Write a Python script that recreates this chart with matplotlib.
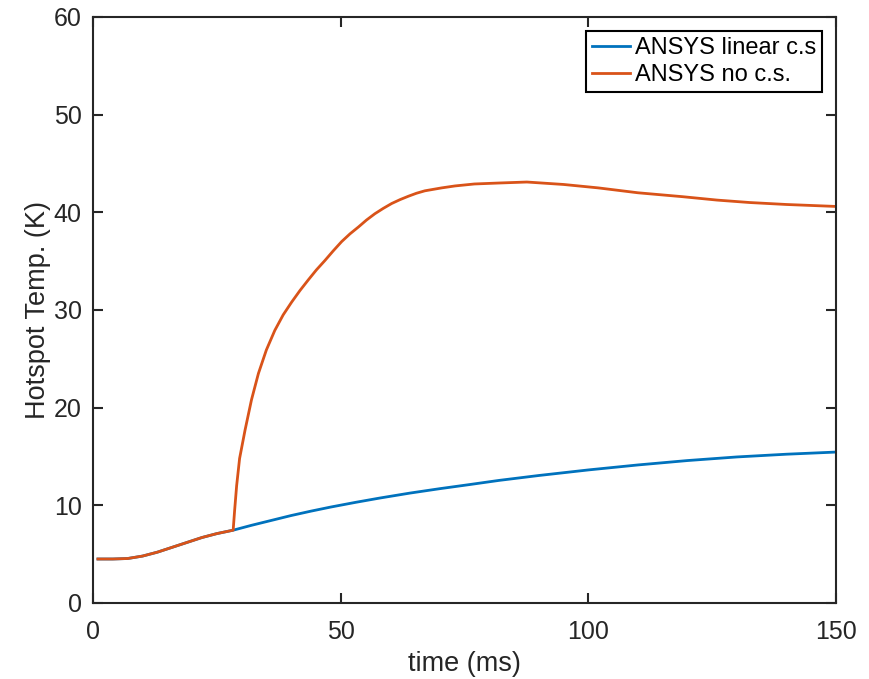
import matplotlib
matplotlib.use('Agg')
import matplotlib.pyplot as plt

plt.rcParams['font.family'] = ['Liberation Sans', 'DejaVu Sans']

# ANSYS linear c.s
time_lin = [1, 4, 7, 10, 13, 16, 19, 22, 25, 28.3, 32, 36, 40, 44, 48, 53, 58, 64, 70, 76,
            82, 90, 100, 110, 120, 130, 140, 150]
temp_lin = [4.5, 4.5, 4.55, 4.8, 5.2, 5.7, 6.2, 6.7, 7.1, 7.45, 7.95, 8.45, 8.95, 9.4, 9.82,
            10.3, 10.75, 11.25, 11.7, 12.12, 12.55, 13.05, 13.62, 14.13, 14.58, 14.95,
            15.23, 15.45]

# ANSYS no c.s.
time_nocs = [1, 4, 7, 10, 13, 16, 19, 22, 25, 28.3, 28.6, 29.0, 29.6, 30.7, 32.0, 33.4,
             35.0, 36.7, 38.4, 40.1, 41.8, 43.5, 45.1, 46.8, 48.5, 50.2, 51.9, 53.6, 55.2,
             56.9, 58.6, 60.3, 62.0, 63.7, 65.3, 67.0, 70.4, 73.1, 77, 82, 87.6, 95, 102,
             110, 119, 126, 132.6, 140, 150]
temp_nocs = [4.5, 4.5, 4.55, 4.8, 5.2, 5.7, 6.2, 6.7, 7.1, 7.45, 9.5, 12.0, 14.8, 17.7, 20.8,
             23.5, 25.9, 27.9, 29.5, 30.8, 32.0, 33.1, 34.1, 35.05, 36.05, 37.0, 37.8, 38.5,
             39.2, 39.85, 40.4, 40.9, 41.3, 41.65, 41.95, 42.2, 42.5, 42.7, 42.9, 43.0,
             43.1, 42.85, 42.5, 42.0, 41.6, 41.25, 41.0, 40.8, 40.6]

labels = ['ANSYS linear c.s', 'ANSYS no c.s.']
colors = ['#0072BD', '#D95319']
axis_col = '#262626'

fig = plt.figure(figsize=(8.69, 6.79), dpi=100)
ax = fig.add_axes([0.107, 0.112, 0.855, 0.863])

ax.plot(time_lin, temp_lin, color=colors[0], lw=2.0, label=labels[0])
ax.plot(time_nocs, temp_nocs, color=colors[1], lw=2.0, label=labels[1])

ax.set_xlim(0, 150)
ax.set_ylim(0, 60)
ax.set_xticks([0, 50, 100, 150])
ax.set_yticks(range(0, 61, 10))

for s in ax.spines.values():
    s.set_linewidth(1.5)
    s.set_color(axis_col)
ax.tick_params(direction='in', length=7, width=1.5, colors=axis_col, labelsize=18,
               top=True, right=True)
ax.tick_params(axis='x', pad=12)
ax.tick_params(axis='y', pad=8)
ax.set_xlabel('time (ms)', fontsize=19.5, color=axis_col, labelpad=5)
ax.set_ylabel('Hotspot Temp. (K)', fontsize=19.5, color=axis_col, labelpad=2)

leg = ax.legend(loc='upper right', fontsize=17, fancybox=False, framealpha=1,
                edgecolor='black', borderaxespad=0.6, handlelength=1.6,
                handletextpad=0.2, borderpad=0.25, labelspacing=0.2)
leg.get_frame().set_linewidth(1.5)

fig.savefig('out.png', dpi=100)
